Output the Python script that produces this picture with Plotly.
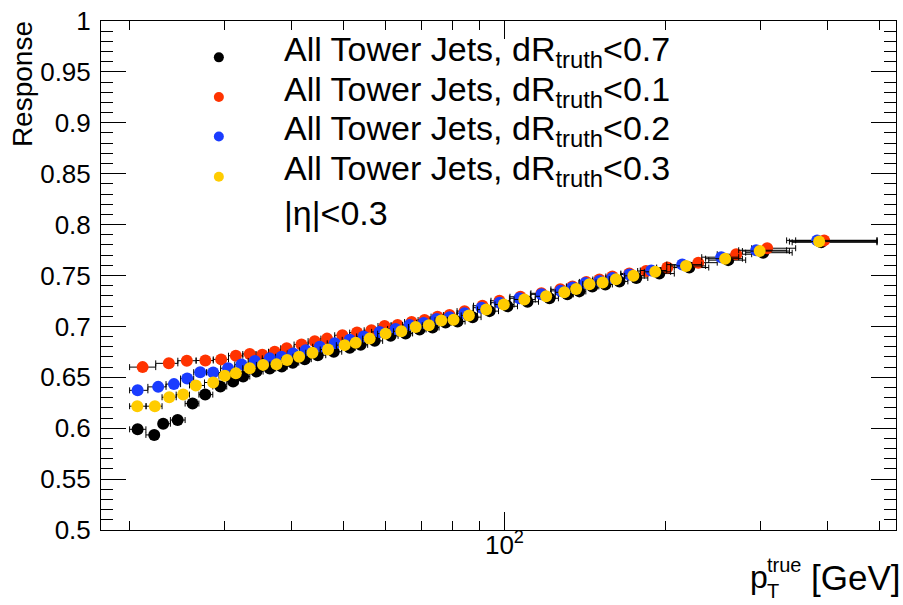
import math
import plotly.graph_objects as go

# ---------------- data ----------------
pt_black = [20.70, 22.23, 23.10, 24.58, 26.21, 27.67, 29.53, 31.19, 32.56, 34.48,
            36.50, 38.43, 40.29, 42.42, 44.86, 48.05, 51.45, 53.93, 57.28, 61.32,
            65.41, 69.46, 73.43, 77.64, 81.75, 87.2, 93.78, 101.3, 110.4, 121.3,
            131.0, 137.9, 145.8, 154.2, 163.8, 176.1, 194.4, 221.1, 261.3, 303.6, 389.5]
resp_black = [0.5989, 0.5934, 0.6044, 0.6080, 0.6242, 0.6330, 0.6410, 0.6459, 0.6508, 0.6556,
              0.6586, 0.6605, 0.6644, 0.6678, 0.6717, 0.6751, 0.6790, 0.6819, 0.6858, 0.6907,
              0.6931, 0.6970, 0.6989, 0.7038, 0.7048, 0.7091, 0.7150, 0.7198, 0.7242, 0.7276,
              0.7315, 0.7344, 0.7393, 0.7412, 0.7442, 0.7476, 0.7519, 0.7578, 0.7651, 0.7724, 0.7826]

pt_red = [21.15, 23.67, 25.57, 27.69, 29.63, 31.56, 33.50, 35.35, 37.29, 39.26,
          41.83, 44.28, 46.68, 49.86, 53.09, 56.47, 59.76, 63.20, 67.12, 70.96,
          75.03, 78.99, 84.26, 90.99, 97.88, 107.1, 117.2, 127.1, 133.9, 142.1,
          150.3, 158.9, 170.9, 183.6, 201.2, 229.8, 270.4, 308.9, 394.5]
resp_red = [0.6600, 0.6637, 0.6663, 0.6665, 0.6676, 0.6712, 0.6729, 0.6722, 0.6751, 0.6785,
            0.6822, 0.6855, 0.6880, 0.6913, 0.6939, 0.6962, 0.7004, 0.7014, 0.7043, 0.7062,
            0.7096, 0.7111, 0.7150, 0.7203, 0.7252, 0.7291, 0.7325, 0.7364, 0.7393, 0.7437,
            0.7461, 0.7490, 0.7519, 0.7544, 0.7578, 0.7626, 0.7709, 0.7768, 0.7845]

pt_blue = [20.70, 22.61, 24.19, 25.61, 27.08, 28.63, 30.52, 32.34, 34.24, 36.50,
           38.39, 40.35, 42.60, 45.24, 48.25, 51.45, 54.63, 58.50, 62.66, 66.55,
           70.67, 74.71, 78.99, 84.26, 90.60, 97.88, 106.6, 117.2, 127.1, 133.9,
           141.5, 150.3, 158.9, 170.9, 187.8, 214.5, 253.6, 294.6, 382.8]
resp_blue = [0.6372, 0.6406, 0.6433, 0.6488, 0.6550, 0.6547, 0.6589, 0.6625, 0.6661, 0.6686,
             0.6702, 0.6734, 0.6766, 0.6800, 0.6834, 0.6868, 0.6902, 0.6946, 0.6975, 0.7014,
             0.7033, 0.7072, 0.7091, 0.7130, 0.7184, 0.7233, 0.7276, 0.7315, 0.7349, 0.7383,
             0.7427, 0.7447, 0.7476, 0.7510, 0.7549, 0.7607, 0.7680, 0.7748, 0.7845]

pt_yellow = [20.67, 22.29, 23.71, 25.17, 26.58, 28.63, 30.10, 31.56, 33.50, 35.47,
             37.57, 39.32, 41.40, 43.85, 46.88, 50.35, 52.79, 56.06, 60.02, 64.22,
             68.29, 72.28, 76.23, 80.35, 85.82, 92.45, 99.7, 108.9, 119.6, 129.3,
             136.0, 144.0, 152.4, 161.4, 173.9, 191.0, 218.0, 257.9, 299.1, 386.1]
resp_yellow = [0.6216, 0.6216, 0.6304, 0.6330, 0.6420, 0.6449, 0.6515, 0.6540, 0.6589, 0.6622,
               0.6627, 0.6670, 0.6702, 0.6741, 0.6773, 0.6816, 0.6839, 0.6880, 0.6929, 0.6952,
               0.6994, 0.7011, 0.7059, 0.7065, 0.7108, 0.7166, 0.7215, 0.7264, 0.7296, 0.7335,
               0.7367, 0.7415, 0.7432, 0.7464, 0.7497, 0.7536, 0.7594, 0.7665, 0.7740, 0.7833]

bin_low, bin_high = 20.0, 495.0

series_labels = ["All Tower Jets, dR<sub>truth</sub>&lt;0.7",
                 "All Tower Jets, dR<sub>truth</sub>&lt;0.1",
                 "All Tower Jets, dR<sub>truth</sub>&lt;0.2",
                 "All Tower Jets, dR<sub>truth</sub>&lt;0.3"]
series_colors = ["#000000", "#ff3300", "#1a3cff", "#ffcc00"]

y_ticks = [0.5, 0.55, 0.6, 0.65, 0.7, 0.75, 0.8, 0.85, 0.9, 0.95, 1.0]
y_ticktext = ["0.5", "0.55", "0.6", "0.65", "0.7", "0.75", "0.8", "0.85", "0.9", "0.95", "1"]
x_major = [100]
x_major_text = ["10<sup>2</sup>"]
x_minor = [20, 30, 40, 50, 60, 70, 80, 90, 200, 300, 400, 500]

# ---------------- layout geometry ----------------
W, H = 903, 605
L, R, T, B = 101, 6, 16, 75
PW, PH = W - L - R, H - T - B
FONT = "Liberation Sans, Arial, Helvetica, sans-serif"


def pxx(xp):
    return (xp - L) / PW


def pxy(yp):
    return (H - B - yp) / PH


def xerr(xs):
    edges = [bin_low] + [math.sqrt(a * b) for a, b in zip(xs[:-1], xs[1:])] + [bin_high]
    minus = [x - e for x, e in zip(xs, edges[:-1])]
    plus = [e - x for x, e in zip(xs, edges[1:])]
    return plus, minus


fig = go.Figure()
all_series = [(pt_black, resp_black), (pt_red, resp_red), (pt_blue, resp_blue), (pt_yellow, resp_yellow)]
for (xs, ys), col in zip(all_series, series_colors):
    plus, minus = xerr(xs)
    fig.add_trace(go.Scatter(
        x=xs, y=ys, mode="markers",
        marker=dict(color=col, size=12, line=dict(width=0)),
        error_x=dict(type="data", array=plus, arrayminus=minus, symmetric=False,
                     color="black", thickness=1, width=3),
        showlegend=False, hoverinfo="x+y"))

fig.update_layout(
    width=W, height=H,
    margin=dict(l=L, r=R, t=T, b=B),
    paper_bgcolor="white", plot_bgcolor="white",
    font=dict(family=FONT, color="black"),
    showlegend=False,
)

fig.update_xaxes(
    type="log", range=[1.2477, 2.7300],
    showline=True, linecolor="black", linewidth=1, mirror="ticks",
    ticks="inside", ticklen=18, tickwidth=1, tickcolor="black",
    tickmode="array", tickvals=x_major, ticktext=x_major_text,
    tickfont=dict(family=FONT, size=26, color="black"),
    ticklabelstandoff=-8,
    showgrid=False, zeroline=False,
    minor=dict(tickmode="array", tickvals=x_minor, ticks="inside", ticklen=9,
               tickwidth=1, tickcolor="black", showgrid=False),
)
fig.update_yaxes(
    range=[0.5, 1.0],
    showline=True, linecolor="black", linewidth=1, mirror="ticks",
    ticks="inside", ticklen=25, tickwidth=1, tickcolor="black",
    tickmode="array", tickvals=y_ticks, ticktext=y_ticktext,
    tickfont=dict(family=FONT, size=26, color="black"),
    ticklabelstandoff=4,
    showgrid=False, zeroline=False,
    minor=dict(dtick=0.01, ticks="inside", ticklen=12, tickwidth=1,
               tickcolor="black", showgrid=False),
)

annotations = []
shapes = []
leg_y = [52.7, 92.7, 132.7, 173.3]
for lab, col, yc in zip(series_labels, series_colors, leg_y):
    shapes.append(dict(type="circle", xref="paper", yref="paper",
                       xsizemode="pixel", ysizemode="pixel",
                       xanchor=pxx(219), yanchor=pxy(yc),
                       x0=-5, x1=5, y0=-5, y1=5,
                       fillcolor=col, line=dict(width=0)))
    annotations.append(dict(text=lab, xref="paper", yref="paper",
                            x=pxx(282), y=pxy(yc - 6), xanchor="left", yanchor="middle",
                            showarrow=False, font=dict(family=FONT, size=34, color="black")))
annotations.append(dict(text="|η|&lt;0.3", xref="paper", yref="paper",
                        x=pxx(282), y=pxy(210), xanchor="left", yanchor="middle",
                        showarrow=False, font=dict(family=FONT, size=34, color="black")))
# axis titles
annotations.append(dict(text="Response", xref="paper", yref="paper",
                        x=pxx(22), y=pxy(14), xanchor="center", yanchor="top", textangle=-90,
                        showarrow=False, font=dict(family=FONT, size=28, color="black")))
annotations.append(dict(text="[GeV]", xref="paper", yref="paper",
                        x=pxx(903), y=pxy(578), xanchor="right", yanchor="middle",
                        showarrow=False, font=dict(family=FONT, size=35, color="black")))
annotations.append(dict(text="p", xref="paper", yref="paper",
                        x=pxx(771), y=pxy(577), xanchor="right", yanchor="middle",
                        showarrow=False, font=dict(family=FONT, size=32, color="black")))
annotations.append(dict(text="true", xref="paper", yref="paper",
                        x=pxx(766), y=pxy(565), xanchor="left", yanchor="middle",
                        showarrow=False, font=dict(family=FONT, size=20, color="black")))
annotations.append(dict(text="T", xref="paper", yref="paper",
                        x=pxx(766), y=pxy(592), xanchor="left", yanchor="middle",
                        showarrow=False, font=dict(family=FONT, size=20, color="black")))

fig.update_layout(annotations=annotations, shapes=shapes)

fig.write_html("out.html")
